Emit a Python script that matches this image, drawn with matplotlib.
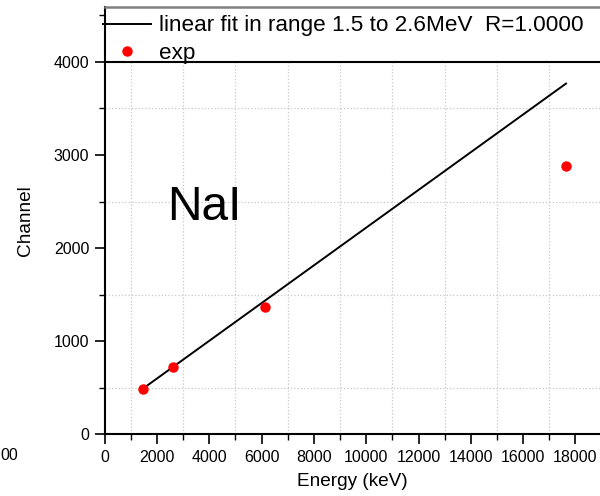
import matplotlib
matplotlib.use("Agg")
import matplotlib.pyplot as plt
from matplotlib.ticker import MultipleLocator

plt.rcParams['font.family'] = ['Liberation Sans', 'DejaVu Sans']

# measured points (keV, channel)
energy = [1460, 2614, 6130, 17640]
channel = [488, 724, 1365, 2883]

# linear fit drawn over the range shown
fit_x = [1460, 17640]
fit_y = [490, 3767]

fig = plt.figure(figsize=(6, 4.96), dpi=100)
ax = fig.add_axes([0.1745, 0.1244, 0.8255, 0.8616])

ax.set_xlim(0, 18940)
ax.set_ylim(0, 4590)

ax.xaxis.set_major_locator(MultipleLocator(2000))
ax.xaxis.set_minor_locator(MultipleLocator(1000))
ax.yaxis.set_major_locator(MultipleLocator(1000))
ax.yaxis.set_minor_locator(MultipleLocator(500))
ax.set_yticks([0, 1000, 2000, 3000, 4000])

ax.grid(which='minor', color='#c8c8c8', linestyle=':', linewidth=0.9)
ax.set_axisbelow(True)

ax.plot(fit_x, fit_y, color='black', lw=1.4, zorder=3,
        label='linear fit in range 1.5 to 2.6MeV  R=1.0000')
ax.plot(energy, channel, 'o', color='red', ms=6.5, zorder=4, label='exp')

# legend band at top of the axes
ax.axhspan(4000, 4590, color='white', zorder=2.5)
ax.axhline(4000, color='black', lw=1.5, zorder=2.6)

ax.legend(loc='upper left', bbox_to_anchor=(-0.003, 0.98), frameon=False,
          fontsize=16.2, borderaxespad=0.0, borderpad=0.0,
          handlelength=2.13, handletextpad=0.36, labelspacing=0.3)

ax.text(3800, 2440, 'NaI', fontsize=34.5, ha='center', va='center', zorder=5)

for s in ['left', 'bottom']:
    ax.spines[s].set_linewidth(1.5)
ax.spines['top'].set_color('#808080')
ax.spines['top'].set_linewidth(1.8)
ax.spines['right'].set_visible(False)

ax.tick_params(which='major', direction='out', length=7, width=1.2,
               labelsize=11.5, pad=4)
ax.tick_params(which='minor', direction='out', length=4, width=1.0)

ax.set_xlabel('Energy (keV)', fontsize=13.7, labelpad=6)
ax.set_ylabel('Channel', fontsize=13.7, labelpad=14)

fig.text(0.0, 0.081, '00', fontsize=11.5, ha='left', va='center')

fig.savefig('out.png', dpi=100)
